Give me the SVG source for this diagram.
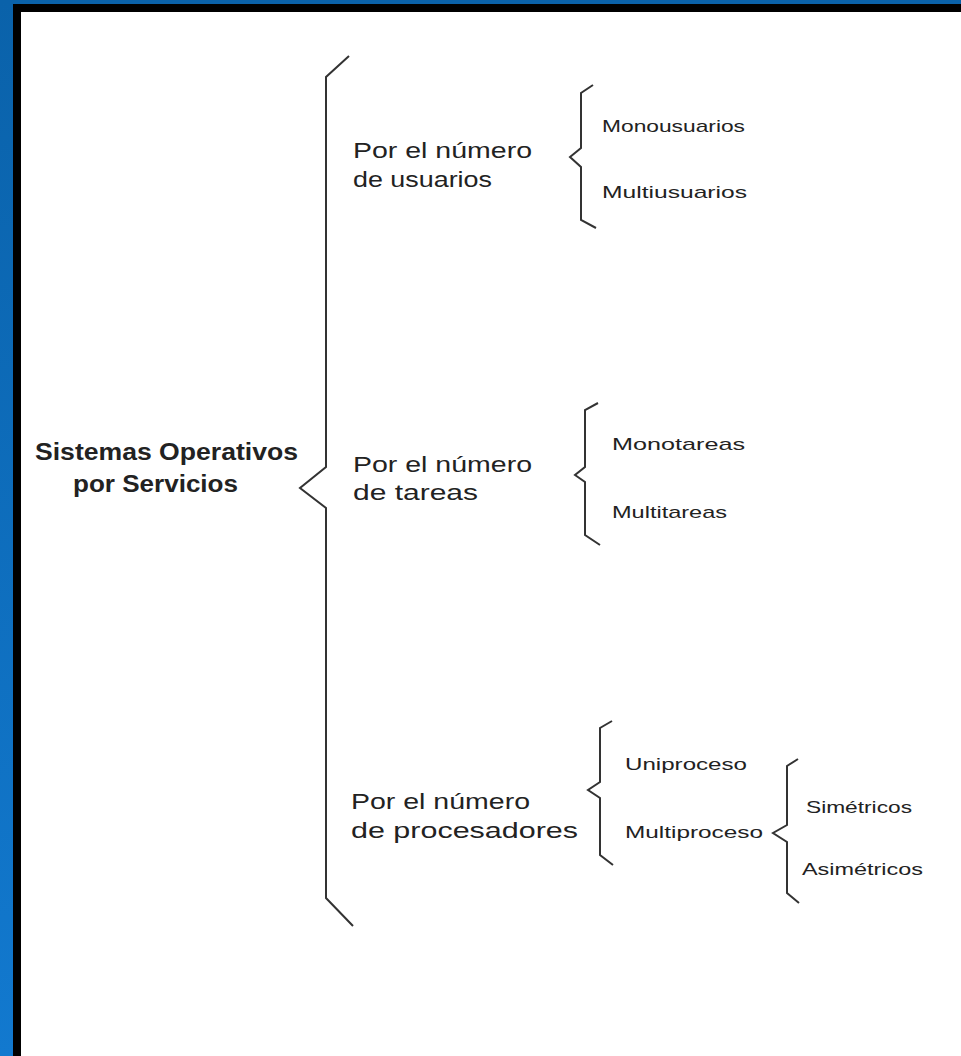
<svg xmlns="http://www.w3.org/2000/svg" width="961" height="1056" viewBox="0 0 961 1056">
<style>
.t{font-family:"Liberation Sans",Arial,sans-serif;fill:#222}
.b{font-weight:bold;font-size:23px}
.m{font-size:22px}
.s{font-size:17px}
.br{fill:none;stroke:#333;stroke-width:2;stroke-linejoin:miter}
</style>
<defs>
<linearGradient id="bl" x1="0" y1="0" x2="0" y2="1">
<stop offset="0" stop-color="#0a62aa"/>
<stop offset="1" stop-color="#1279cf"/>
</linearGradient>
</defs>
<rect x="0" y="0" width="961" height="1056" fill="#fff"/>
<rect x="0" y="0" width="13" height="1056" fill="url(#bl)"/>
<rect x="0" y="0" width="961" height="4" fill="#0a62aa"/>
<rect x="13" y="4" width="948" height="8" fill="#000"/>
<rect x="13" y="4" width="8" height="1052" fill="#000"/>
<g id="connectors">
<path class="br" d="M349,56 L326,77 L326,467 L300,488 L326,508 L326,898 L353,926"/>
<path class="br" d="M593,85 L581,93 L581,148 L570,157 L581,167 L581,220 L596,228"/>
<path class="br" d="M598,403 L585,410 L585,467 L575,475 L585,482 L585,535 L600,545"/>
<path class="br" d="M612,721 L600,728 L600,782 L588,790 L600,798 L600,855 L613,865"/>
<path class="br" d="M798,759 L787,766 L787,825 L773,833 L787,842 L787,893 L799,903"/>
</g>
<g id="root">
<text class="t b" x="35" y="460" textLength="263" lengthAdjust="spacingAndGlyphs">Sistemas Operativos</text>
<text class="t b" x="73" y="492" textLength="165" lengthAdjust="spacingAndGlyphs">por Servicios</text>
</g>
<g id="usuarios">
<text class="t m" x="353" y="158" textLength="179" lengthAdjust="spacingAndGlyphs">Por el número</text>
<text class="t m" x="353" y="187" textLength="139" lengthAdjust="spacingAndGlyphs">de usuarios</text>
</g>
<g id="monousuarios"><text class="t s" x="602" y="132" textLength="143" lengthAdjust="spacingAndGlyphs">Monousuarios</text></g>
<g id="multiusuarios"><text class="t s" x="602" y="198" textLength="145" lengthAdjust="spacingAndGlyphs">Multiusuarios</text></g>
<g id="tareas">
<text class="t m" x="353" y="472" textLength="179" lengthAdjust="spacingAndGlyphs">Por el número</text>
<text class="t m" x="353" y="500" textLength="125" lengthAdjust="spacingAndGlyphs">de tareas</text>
</g>
<g id="monotareas"><text class="t s" x="612" y="450" textLength="133" lengthAdjust="spacingAndGlyphs">Monotareas</text></g>
<g id="multitareas"><text class="t s" x="612" y="518" textLength="115" lengthAdjust="spacingAndGlyphs">Multitareas</text></g>
<g id="procesadores">
<text class="t m" x="351" y="809" textLength="179" lengthAdjust="spacingAndGlyphs">Por el número</text>
<text class="t m" x="351" y="838" textLength="227" lengthAdjust="spacingAndGlyphs">de procesadores</text>
</g>
<g id="uniproceso"><text class="t s" x="625" y="770" textLength="122" lengthAdjust="spacingAndGlyphs">Uniproceso</text></g>
<g id="multiproceso"><text class="t s" x="625" y="838" textLength="138" lengthAdjust="spacingAndGlyphs">Multiproceso</text></g>
<g id="simetricos"><text class="t s" x="806" y="813" textLength="106" lengthAdjust="spacingAndGlyphs">Simétricos</text></g>
<g id="asimetricos"><text class="t s" x="802" y="875" textLength="121" lengthAdjust="spacingAndGlyphs">Asimétricos</text></g>
</svg>
